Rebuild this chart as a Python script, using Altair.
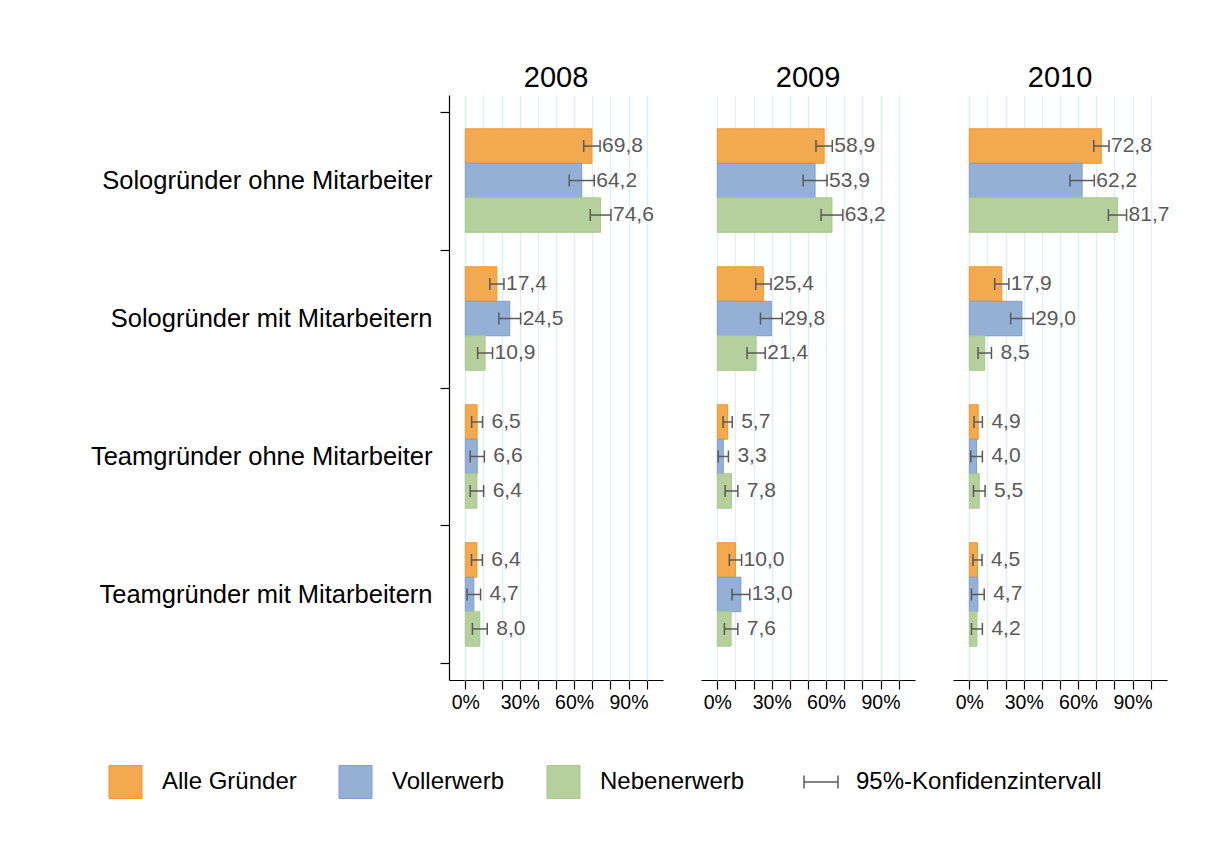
import altair as alt
import pandas as pd

# ---------------- data ----------------
years = ["2008", "2009", "2010"]
categories = [
    "Sologründer ohne Mitarbeiter",
    "Sologründer mit Mitarbeitern",
    "Teamgründer ohne Mitarbeiter",
    "Teamgründer mit Mitarbeitern",
]
series = ["Alle Gründer", "Vollerwerb", "Nebenerwerb"]
ci_label = "95%-Konfidenzintervall"

# share in % per category (rows) and series (columns)
values_2008 = [[69.8, 64.2, 74.6], [17.4, 24.5, 10.9], [6.5, 6.6, 6.4], [6.4, 4.7, 8.0]]
values_2009 = [[58.9, 53.9, 63.2], [25.4, 29.8, 21.4], [5.7, 3.3, 7.8], [10.0, 13.0, 7.6]]
values_2010 = [[72.8, 62.2, 81.7], [17.9, 29.0, 8.5], [4.9, 4.0, 5.5], [4.5, 4.7, 4.2]]

# half width of the 95% confidence interval (percentage points)
err_2008 = [[4.5, 6.9, 5.7], [3.9, 6.0, 4.1], [3.0, 3.9, 3.7], [3.0, 3.7, 4.1]]
err_2009 = [[4.5, 6.6, 6.0], [4.2, 6.0, 5.0], [2.5, 2.8, 3.5], [3.4, 4.9, 3.7]]
err_2010 = [[4.2, 6.7, 5.0], [3.9, 6.2, 3.7], [2.3, 3.2, 3.2], [2.5, 3.5, 3.0]]

rows = []
for year, vals, errs in zip(years, [values_2008, values_2009, values_2010],
                            [err_2008, err_2009, err_2010]):
    for cat, vrow, erow in zip(categories, vals, errs):
        for s, v, e in zip(series, vrow, erow):
            rows.append({
                "year": year, "category": cat, "series": s, "value": v,
                "lo": round(v - e, 2), "hi": round(v + e, 2),
                "label": f"{v:.1f}".replace(".", ","),
            })
df = pd.DataFrame(rows)

# ---------------- style ----------------
FONT = "Liberation Sans"
fill_colors = ["#F2A950", "#95B0D5", "#B5D09C"]
stroke_colors = ["#F0962D", "#7E9ECF", "#A6C98D"]
GRAY = "#595959"
CI_PATH = "M-1,-0.38L-1,0.38M-1,0L1,0M1,-0.38L1,0.38"

x_scale = alt.Scale(domain=[-9, 109], nice=False, zero=False)
x_axis = alt.Axis(
    title=None, values=list(range(0, 101, 10)),
    labelExpr="datum.value % 30 == 0 && datum.value <= 90 ? datum.value + '%' : ''",
    labelOverlap=False, labelFlush=False,
    labelFontSize=19.5, labelFont=FONT, labelColor="black", labelPadding=4,
    tickSize=9, tickColor="black", tickWidth=1.2,
    domainColor="black", domainWidth=1.2,
    grid=True, gridColor="#E4EEF2", gridWidth=1.5,
)


def xq(field):
    return alt.X(field, type="quantitative", scale=x_scale, axis=x_axis)


y_enc = alt.Y(
    "category:N", sort=categories,
    scale=alt.Scale(paddingInner=0, paddingOuter=0.12),
    axis=alt.Axis(
        title=None, tickBand="extent", tickSize=9, tickColor="black", tickWidth=1.2,
        domainColor="black", domainWidth=1.2, labelFontSize=25.5, labelFont=FONT,
        labelColor="black", labelPadding=8, labelLimit=0, grid=False,
    ),
)
yoff = alt.YOffset("series:N", sort=series,
                   scale=alt.Scale(paddingInner=0, paddingOuter=0.5))

bars = alt.Chart().mark_bar(strokeWidth=1).encode(
    x=xq("value"),
    y=y_enc,
    yOffset=yoff,
    color=alt.Color(
        "series:N", sort=series,
        scale=alt.Scale(domain=series, range=fill_colors),
        legend=alt.Legend(
            title=None, orient="none", legendX=-341, legendY=669,
            direction="horizontal", symbolType="square", symbolSize=1090,
            symbolStrokeWidth=1, labelFontSize=24, labelFont=FONT,
            labelColor="black", labelOffset=19, columnPadding=39, labelLimit=0,
        ),
    ),
    stroke=alt.Stroke("series:N", scale=alt.Scale(domain=series, range=stroke_colors),
                      legend=None),
)

rules = alt.Chart().mark_rule(color=GRAY, strokeWidth=1.5).encode(
    x=xq("lo"), x2="hi:Q", y=y_enc, yOffset=yoff,
)

caps = alt.Chart().transform_fold(["lo", "hi"], as_=["end", "pos"]).mark_tick(
    color=GRAY, thickness=1.5, size=12, opacity=1
).encode(
    x=xq("pos"), y=y_enc, yOffset=yoff,
)

text_big = alt.Chart().transform_filter("datum.value >= 10").mark_text(
    align="left", baseline="middle", dx=2, fontSize=21, font=FONT, color=GRAY
).encode(x=xq("hi"), y=y_enc, yOffset=yoff, text="label:N")

text_small = alt.Chart().transform_filter("datum.value < 10").mark_text(
    align="left", baseline="middle", dx=9, fontSize=21, font=FONT, color=GRAY
).encode(x=xq("hi"), y=y_enc, yOffset=yoff, text="label:N")

ci_legend = alt.Chart().transform_calculate(ci="'" + ci_label + "'").transform_filter(
    "false"
).mark_point(filled=False, color=GRAY, strokeWidth=1.5, opacity=1).encode(
    shape=alt.Shape(
        "ci:N",
        scale=alt.Scale(domain=[ci_label], range=[CI_PATH]),
        legend=alt.Legend(
            title=None, orient="none", legendX=354, legendY=669,
            symbolSize=1156, symbolStrokeWidth=1.5, symbolStrokeColor=GRAY,
            labelFontSize=24, labelFont=FONT, labelColor="black", labelOffset=17,
            labelLimit=0,
        ),
    ),
)

layered = alt.layer(bars, rules, caps, text_big, text_small, ci_legend, data=df).properties(
    width=214, height=585
)

chart = layered.facet(
    column=alt.Column(
        "year:N", sort=years, title=None,
        header=alt.Header(labelFontSize=29, labelFont=FONT, labelColor="black",
                          labelPadding=2),
    ),
    spacing=38,
    bounds="flush",
).properties(
    padding={"left": 82, "top": 56, "right": 10, "bottom": 10},
).configure_view(strokeWidth=0, stroke="transparent").configure(
    font=FONT, style={"cell": {"stroke": "transparent", "strokeWidth": 0}}
)

chart.save("out.html", embed_options={"renderer": "svg", "actions": False})
